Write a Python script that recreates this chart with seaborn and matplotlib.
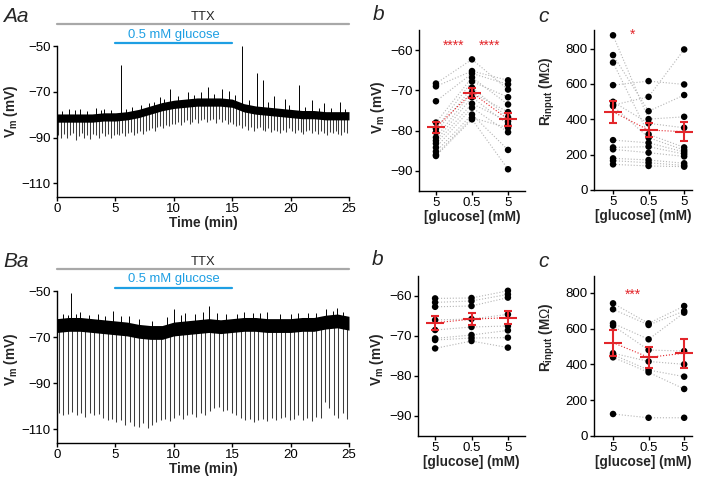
import numpy as np
import pandas as pd
import matplotlib
matplotlib.use('Agg')
import matplotlib.pyplot as plt
import seaborn as sns

# ---- traces (membrane potential, mV) ----
minutes = list(range(26))

# centre of the noisy band, one value per minute
a_base = [-81.5, -81.5, -81.5, -81.5, -81, -81, -80.5, -79.5, -78, -76.5, -75.5, -75, -74.5,
          -74.5, -74.5, -75, -77, -78, -78.5, -79, -79.5, -80, -80, -80.5, -80.5, -80.5]
b_base = [-65, -64.5, -64.5, -65, -65.5, -66, -66.5, -67.5, -68, -68, -66.5, -66, -65.5,
          -65, -65.5, -65, -64.5, -64.5, -65, -65, -65, -64.5, -64.5, -63.5, -63, -64]

# bottoms of the current-step deflections
a_dips = [-89, -90, -88.5, -90, -89, -88, -91, -89.5, -88, -90,
          -89, -90.5, -88.5, -89, -90, -88, -89.5, -88.5, -90, -89,
          -88.5, -89, -88, -89.5, -88, -87.5, -89, -88, -87, -88.5,
          -87, -86.5, -86, -87, -85.5, -85, -86, -84.5, -85, -84,
          -84, -83, -84.5, -83, -82.5, -84, -83, -82, -83.5, -82.5,
          -82, -83, -82.5, -82, -83.5, -82, -83, -82.5, -84, -83,
          -84, -85, -84.5, -86, -85, -86.5, -85.5, -87, -86, -85.5,
          -86.5, -87, -86, -87.5, -86.5, -87, -88, -86.5, -87.5, -86,
          -87, -88, -86.5, -87.5, -88.5, -87, -86.5, -88, -87, -88.5,
          -87, -88, -89, -87.5, -88, -87, -88.5, -89, -87.5, -88]
b_dips = [-103, -104, -103.5, -102.5, -104, -103, -104.5, -103, -104, -103.5,
          -105, -106, -105.5, -107, -106, -108, -107, -108.5, -109, -107.5,
          -109.5, -108, -107, -106, -105.5, -106.5, -105, -104, -105.5, -104,
          -103.5, -104.5, -103, -104, -102, -101, -100.5, -102, -101.5, -103,
          -104, -105, -106, -105.5, -107, -106, -105.5, -106.5, -105, -106,
          -105, -104.5, -106, -105.5, -104, -106, -105, -106.5, -104.5, -105,
          -98, -101, -104, -105, -103, -105.5]

# upward spontaneous events and noise peaks (time in min, peak in mV)
a_spike_t = [5.5, 15.8, 17.1, 17.6, 20.7, 1.0, 2.0, 3.3, 4.0, 6.4, 7.9, 8.8, 9.7, 11.2,
             12.3, 12.9, 14.1, 14.7, 18.6, 19.5, 21.8, 22.9, 24.2,
             0.4, 1.5, 2.6, 3.8, 4.6, 5.9, 7.2, 8.3, 9.2, 10.4, 11.7, 13.4, 15.2,
             16.4, 18.1, 19.9, 21.2, 22.4, 23.5, 24.7]
a_spike_v = [-58.5, -50, -62, -65, -67, -77.5, -77.5, -77, -77.5, -76.5, -75, -72.5, -69, -70,
             -70, -68, -69, -69.5, -72, -73, -73.5, -75, -74.5,
             -78.5, -78, -78.5, -78, -78, -77.5, -76, -74.5, -73, -72, -71.5, -71, -71.5,
             -73.5, -74.5, -76, -76.5, -77, -77, -77.5]
b_spike_t = [1.2, 0.5, 2.0, 3.5, 4.8, 6.2, 10.0, 11.0, 12.5, 13.0, 16.0, 18.0, 20.0, 21.5,
             23.0, 24.0, 24.5,
             0.9, 1.6, 2.7, 4.1, 5.5, 7.0, 8.1, 9.4, 10.6, 11.8, 13.7, 14.5, 15.4, 16.8,
             17.4, 19.1, 20.6, 22.2, 23.6]
b_spike_v = [-51, -60, -59, -60, -58.5, -61, -58, -59.5, -59, -56.5, -59, -59, -60, -59.5,
             -58, -57.5, -59,
             -60.5, -60, -60.5, -61, -61, -62, -63, -61.5, -60.5, -60, -59.5, -60, -60, -59.5,
             -59.5, -60, -59.5, -59.5, -58.5]

# ---- paired data ----
conds = ['5', '0.5', '5']

vm_a_5 = [-68.3, -69, -72.7, -78, -79.5, -80.4, -81.7, -82.5, -83.2, -84.2, -85.2, -86, -86.3]
vm_a_05 = [-62.3, -65.2, -65.8, -66.8, -67.8, -69.3, -70.5, -71.7, -73.3, -74.3, -76, -76.8, -77.2]
vm_a_5w = [-69.8, -67.5, -68.5, -73.5, -71.7, -76.7, -75.4, -78.5, -77.7, -80.4, -84.8, -79.3, -89.6]
vm_a_mean = [-79.2, -70.6, -77.2]
vm_a_sem = [1.4, 1.3, 1.6]

rin_a_5 = [875, 763, 721, 593, 499, 475, 282, 241, 230, 179, 166, 145, 480]
rin_a_05 = [401, 446, 315, 616, 377, 296, 267, 245, 211, 170, 154, 136, 527]
rin_a_5w = [414, 537, 241, 597, 352, 226, 215, 203, 190, 151, 139, 132, 795]
rin_a_mean = [442, 339, 330]
rin_a_sem = [62, 40, 55]

vm_b_5 = [-60.6, -61.6, -62.7, -66, -68.5, -70.6, -71, -73.1]
vm_b_05 = [-60.5, -61.25, -62.5, -65.75, -67.75, -69.75, -70.5, -71.25]
vm_b_5w = [-58.7, -59.6, -60.4, -64.6, -67.5, -68.6, -70.4, -72.9]
vm_b_mean = [-66.7, -65.8, -65.4]
vm_b_sem = [1.7, 1.5, 1.7]

rin_b_5 = [742, 709, 630, 617, 463, 455, 440, 123]
rin_b_05 = [630, 621, 541, 481, 417, 369, 356, 102]
rin_b_5w = [727, 699, 690, 475, 401, 332, 263, 102]
rin_b_mean = [522, 440, 463]
rin_b_sem = [73, 60, 82]

RED = '#e3262b'
BLUE = '#1e9fe3'

sns.set_theme(style='ticks')
plt.rcParams['font.family'] = ['Liberation Sans', 'DejaVu Sans']
plt.rcParams['mathtext.fontset'] = 'custom'
plt.rcParams['mathtext.rm'] = 'Liberation Sans'
plt.rcParams['mathtext.bf'] = 'Liberation Sans:bold'
plt.rcParams['axes.linewidth'] = 1.0
plt.rcParams['xtick.major.width'] = 1.0
plt.rcParams['ytick.major.width'] = 1.0
plt.rcParams['xtick.major.size'] = 3
plt.rcParams['ytick.major.size'] = 3
plt.rcParams['xtick.major.pad'] = 1.5
plt.rcParams['ytick.major.pad'] = 1.5
plt.rcParams['xtick.labelsize'] = 9.5
plt.rcParams['ytick.labelsize'] = 9.5
plt.rcParams['xtick.color'] = 'black'
plt.rcParams['ytick.color'] = 'black'
plt.rcParams['axes.edgecolor'] = 'black'

W, H = 703, 478
fig = plt.figure(figsize=(W / 100, H / 100), dpi=100)


def px_axes(l, t, r, b):
    return fig.add_axes([l / W, 1 - b / H, (r - l) / W, (b - t) / H])


def draw_trace(ax, base, dips, step, first, sp_t, sp_v, band, letter, label_y):
    t = np.array(minutes, dtype=float)
    base = np.array(base)
    ax.fill_between(t, base - band, base + band, color='black', lw=0, zorder=3)
    pulse_t = first + step * np.arange(len(dips))
    tops = np.interp(pulse_t, t, base)
    ax.vlines(pulse_t, dips, tops, color='#3c3c3c', lw=0.75, zorder=2)
    sp_t = np.array(sp_t)
    ax.vlines(sp_t, np.interp(sp_t, t, base), sp_v, color='black', lw=0.7,
              zorder=3, clip_on=False)
    ax.set_xlim(0, 25)
    ax.set_ylim(-116, -50)
    ax.set_xticks([0, 5, 10, 15, 20, 25])
    ax.set_yticks([-50, -70, -90, -110])
    ax.set_xlabel('Time (min)', fontsize=9.8, fontweight='bold', labelpad=0.5)
    ax.set_ylabel(r'V$_{\mathbf{m}}$ (mV)', fontsize=9.8, fontweight='bold')
    ax.yaxis.set_label_coords(-0.125, label_y)
    sns.despine(ax=ax)
    # drug bars
    ax.plot([0, 25], [-40.5, -40.5], color='#a8a8a8', lw=1.6, clip_on=False)
    ax.text(12.5, -37.3, 'TTX', ha='center', va='center', fontsize=9.4)
    ax.plot([5, 15], [-48.6, -48.6], color=BLUE, lw=1.6, clip_on=False)
    ax.text(10, -45, '0.5 mM glucose', ha='center', va='center', fontsize=9.4, color=BLUE)
    ax.text(-4.62, -39.5, letter, fontsize=15, style='italic', ha='left', va='baseline')


def draw_pairs(ax, c0, c1, c2, mean, sem, ylabel, ylim, yticks, xlim, label_xy):
    n = len(c0)
    df = pd.DataFrame({
        'cell': list(range(n)) * 3,
        'pos': [0] * n + [1] * n + [2] * n,
        'val': list(c0) + list(c1) + list(c2),
    })
    sns.lineplot(data=df, x='pos', y='val', units='cell', estimator=None, ax=ax,
                 color='#b5b5b5', lw=0.8, linestyle=':', legend=False, zorder=1)
    sns.scatterplot(data=df, x='pos', y='val', ax=ax, color='black', s=22,
                    edgecolor='none', legend=False, zorder=2)
    ax.plot([0, 1, 2], mean, ':', color=RED, lw=0.8, zorder=3)
    ax.errorbar([0, 1, 2], mean, yerr=sem, fmt='_', color=RED, ecolor=RED,
                markersize=13, mew=1.5, elinewidth=1.5, capsize=3, capthick=1.5, zorder=4)
    ax.set_xlim(*xlim)
    ax.set_ylim(*ylim)
    ax.set_yticks(yticks)
    ax.set_xticks([0, 1, 2])
    ax.set_xticklabels(conds)
    ax.set_xlabel('[glucose] (mM)', fontsize=9.8, fontweight='bold', labelpad=0.5)
    ax.set_ylabel(ylabel, fontsize=9.8, fontweight='bold')
    ax.yaxis.set_label_coords(*label_xy)
    sns.despine(ax=ax)


vm_label = r'V$_{\mathbf{m}}$ (mV)'
rin_label = r'R$_{\mathbf{input}}$ (M$\Omega$)'

# ---- row A ----
ax = px_axes(57, 46, 349, 197)
draw_trace(ax, a_base, a_dips, 0.25, 0.1, a_spike_t, a_spike_v, 1.8, 'Aa', 0.57)

ax = px_axes(419, 30, 525, 191)
draw_pairs(ax, vm_a_5, vm_a_05, vm_a_5w, vm_a_mean, vm_a_sem, vm_label,
           (-95, -55), [-60, -70, -80, -90], (-0.47, 2.47), (-0.30, 0.52))
ax.text(0.5, -58.9, '****', color=RED, ha='center', va='center', fontsize=10)
ax.text(1.5, -58.9, '****', color=RED, ha='center', va='center', fontsize=10)
ax.text(-1.75, -52.5, 'b', fontsize=15, style='italic', ha='left', va='baseline')

ax = px_axes(594, 30, 692, 190)
draw_pairs(ax, rin_a_5, rin_a_05, rin_a_5w, rin_a_mean, rin_a_sem, rin_label,
           (0, 905), [0, 200, 400, 600, 800], (-0.535, 2.22), (-0.378, 0.62))
ax.text(0.54, 880, '*', color=RED, ha='center', va='center', fontsize=10)
ax.text(-2.11, 950, 'c', fontsize=15, style='italic', ha='left', va='baseline')

# ---- row B ----
ax = px_axes(57, 291, 349, 443)
draw_trace(ax, b_base, b_dips, 0.38, 0.15, b_spike_t, b_spike_v, 3.0, 'Ba', 0.55)

ax = px_axes(418, 276, 525, 436)
draw_pairs(ax, vm_b_5, vm_b_05, vm_b_5w, vm_b_mean, vm_b_sem, vm_label,
           (-95, -55), [-60, -70, -80, -90], (-0.47, 2.47), (-0.30, 0.48))
ax.text(-1.75, -52.3, 'b', fontsize=15, style='italic', ha='left', va='baseline')

ax = px_axes(594, 276, 692, 436)
draw_pairs(ax, rin_b_5, rin_b_05, rin_b_5w, rin_b_mean, rin_b_sem, rin_label,
           (0, 895), [0, 200, 400, 600, 800], (-0.535, 2.22), (-0.378, 0.62))
ax.text(0.55, 790, '***', color=RED, ha='center', va='center', fontsize=10)
ax.text(-2.11, 945, 'c', fontsize=15, style='italic', ha='left', va='baseline')

fig.savefig('out.png', dpi=100)
